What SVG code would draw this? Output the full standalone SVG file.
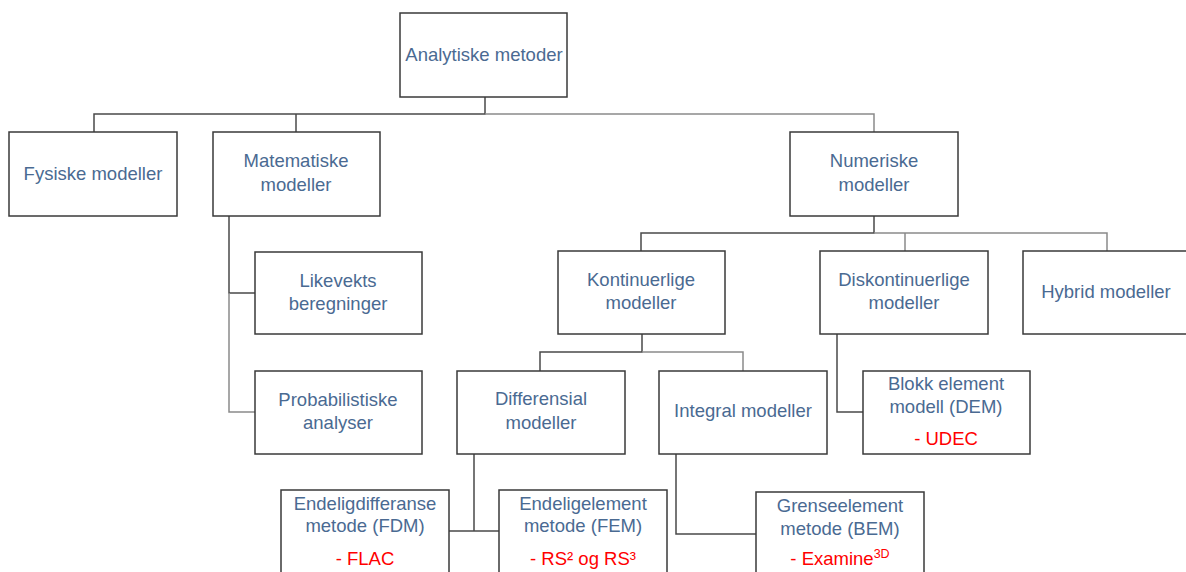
<svg xmlns="http://www.w3.org/2000/svg" width="1186" height="572" viewBox="0 0 1186 572">
<style>
.box{fill:#fff;stroke:#3a3a3a;stroke-width:1.5}
.t{font-family:"Liberation Sans",Arial,sans-serif;font-size:18.5px;fill:#4a6a92;text-anchor:middle}
.r{fill:#ff0000}
.c{fill:none;stroke:#4a4a4a;stroke-width:1.5}
.g{fill:none;stroke:#8a8a8a;stroke-width:1.5}
</style>
<rect width="1186" height="572" fill="#fff"/>
<g id="connectors">
<path class="c" d="M485 97V114H94V132"/>
<path class="g" d="M485 114H874V132"/>
<path class="c" d="M296 114V132"/>
<path class="c" d="M229 216V293H255"/>
<path class="g" d="M229 293V412H255"/>
<path class="c" d="M874 216V233H641V251"/>
<path class="g" d="M874 233H1107V251M905 233V251"/>
<path class="c" d="M642 334V352H540V371"/>
<path class="g" d="M642 352H743V371"/>
<path class="c" d="M837 334V412H863"/>
<path class="c" d="M474 454V531M449 531H499"/>
<path class="c" d="M676 454V534H756"/>
</g>
<g id="analytiske"><rect class="box" x="400" y="13" width="167" height="84"/><text class="t" x="484" y="61">Analytiske metoder</text></g>
<g id="fysiske"><rect class="box" x="9" y="132" width="168" height="84"/><text class="t" x="93" y="180">Fysiske modeller</text></g>
<g id="matematiske"><rect class="box" x="213" y="132" width="167" height="84"/><text class="t" x="296" y="167">Matematiske</text><text class="t" x="296" y="191">modeller</text></g>
<g id="numeriske"><rect class="box" x="790" y="132" width="168" height="84"/><text class="t" x="874" y="167">Numeriske</text><text class="t" x="874" y="191">modeller</text></g>
<g id="likevekts"><rect class="box" x="255" y="252" width="167" height="82"/><text class="t" x="338" y="287">Likevekts</text><text class="t" x="338" y="310">beregninger</text></g>
<g id="probabilistiske"><rect class="box" x="255" y="371" width="167" height="83"/><text class="t" x="338" y="406">Probabilistiske</text><text class="t" x="338" y="429">analyser</text></g>
<g id="kontinuerlige"><rect class="box" x="558" y="251" width="167" height="83"/><text class="t" x="641" y="286">Kontinuerlige</text><text class="t" x="641" y="309">modeller</text></g>
<g id="diskontinuerlige"><rect class="box" x="820" y="251" width="168" height="83"/><text class="t" x="904" y="286">Diskontinuerlige</text><text class="t" x="904" y="309">modeller</text></g>
<g id="hybrid"><rect class="box" x="1023" y="251" width="168" height="83"/><text class="t" x="1106" y="298">Hybrid modeller</text></g>
<g id="differensial"><rect class="box" x="457" y="371" width="168" height="83"/><text class="t" x="541" y="405">Differensial</text><text class="t" x="541" y="429">modeller</text></g>
<g id="integral"><rect class="box" x="659" y="371" width="168" height="83"/><text class="t" x="743" y="417">Integral modeller</text></g>
<g id="blokk"><rect class="box" x="863" y="371" width="167" height="83"/><text class="t" x="946" y="390">Blokk element</text><text class="t" x="946" y="413">modell (DEM)</text><text class="t r" x="946" y="445">- UDEC</text></g>
<g id="fdm"><rect class="box" x="281" y="490" width="168" height="86"/><text class="t" x="365" y="510">Endeligdifferanse</text><text class="t" x="365" y="532">metode (FDM)</text><text class="t r" x="365" y="565">- FLAC</text></g>
<g id="fem"><rect class="box" x="499" y="490" width="168" height="86"/><text class="t" x="583" y="510">Endeligelement</text><text class="t" x="583" y="532">metode (FEM)</text><text class="t r" x="583" y="565">- RS² og RS³</text></g>
<g id="bem"><rect class="box" x="756" y="492" width="168" height="86"/><text class="t" x="840" y="512">Grenseelement</text><text class="t" x="840" y="535">metode (BEM)</text><text class="t r" x="840" y="565">- Examine<tspan font-size="12.5" dy="-7">3D</tspan></text></g>
</svg>
